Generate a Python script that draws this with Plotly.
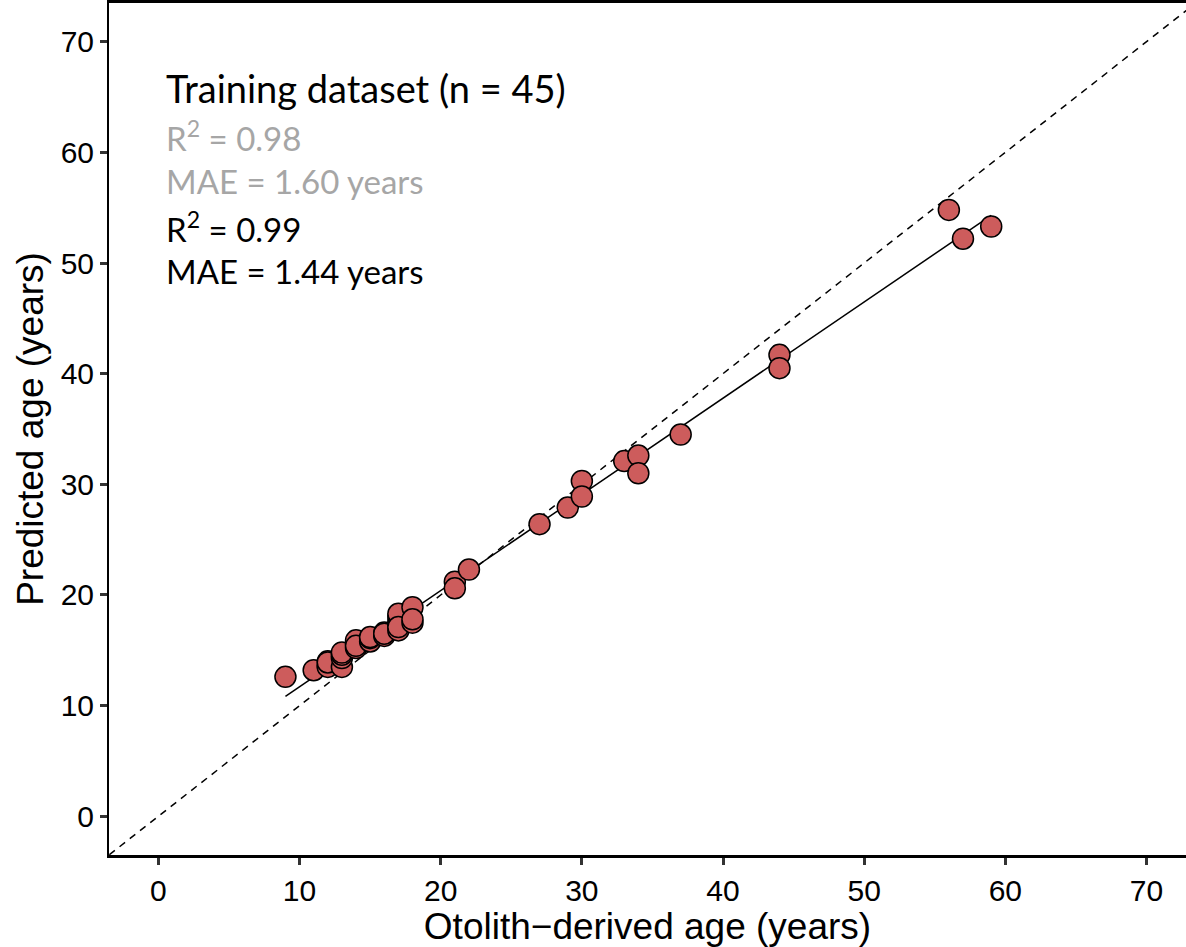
import numpy as np
import plotly.graph_objects as go

# Otolith-derived (true) ages and model-predicted ages, training set (n = 45)
otolith_age = [9, 11, 12, 12, 12, 12, 13, 13, 13, 13, 14, 14, 14, 14, 15, 15, 15,
               16, 16, 16, 17, 17, 17, 17, 17, 17, 18, 18, 18, 21, 21, 22, 27,
               29, 30, 30, 33, 34, 34, 37, 44, 44, 56, 57, 59]
predicted_age = [12.6, 13.2, 13.6, 14.0, 13.5, 13.9, 13.5, 14.3, 14.6, 14.8, 15.2, 15.6, 15.9, 15.4,
                 15.8, 16.1, 16.2, 16.3, 16.6, 16.5, 16.8, 17.3, 17.6, 18.0, 18.3, 17.1,
                 17.5, 18.9, 17.8, 21.2, 20.6, 22.3, 26.4, 27.9, 30.3, 28.9, 32.1, 32.6,
                 31.0, 34.5, 41.7, 40.5, 54.8, 52.2, 53.3]

axis_ticks = [0, 10, 20, 30, 40, 50, 60, 70]
stats_lines = ["Training dataset (n = 45)", "R<sup>2</sup> = 0.98", "MAE = 1.60 years",
               "R<sup>2</sup> = 0.99", "MAE = 1.44 years"]
stats_colors = ["black", "#a6a6a6", "#a6a6a6", "black", "black"]
stats_y = [65.8, 61.5, 57.4, 53.3, 49.3]
stats_sizes = [38, 33, 33, 33, 33]

x = np.array(otolith_age, dtype=float)
y = np.array(predicted_age, dtype=float)
slope, intercept = np.polyfit(x, y, 1)
fit_x = np.array([x.min(), x.max()])
fit_y = intercept + slope * fit_x

fig = go.Figure()
# 1:1 reference line
fig.add_trace(go.Scatter(x=[-10, 80], y=[-10, 80], mode="lines",
                         line=dict(color="black", width=1.5, dash="7px,6px"),
                         hoverinfo="skip", showlegend=False))
# linear fit
fig.add_trace(go.Scatter(x=fit_x, y=fit_y, mode="lines",
                         line=dict(color="black", width=1.5),
                         hoverinfo="skip", showlegend=False))
fig.add_trace(go.Scatter(x=x, y=y, mode="markers",
                         marker=dict(size=21, color="#cd5c5c",
                                     line=dict(color="black", width=1.5)),
                         showlegend=False))

for txt, col, yy, sz in zip(stats_lines, stats_colors, stats_y, stats_sizes):
    fig.add_annotation(x=0.4, y=yy, xref="x", yref="y", text=txt, showarrow=False,
                       xanchor="left", yanchor="middle",
                       font=dict(family="Lato", size=sz, color=col))

tick_font = dict(family="Liberation Sans", size=30, color="black")
title_font = dict(family="Liberation Sans", size=37, color="black")
fig.update_xaxes(range=[-3.5, 72.8], tickvals=axis_ticks, showgrid=False, zeroline=False,
                 showline=True, linecolor="black", linewidth=2.5, mirror=True,
                 ticks="outside", ticklen=7, tickwidth=2.5, tickcolor="#333333",
                 tickfont=tick_font, title=dict(text="Otolith\u2212derived age (years)",
                                                font=title_font, standoff=0))
fig.update_yaxes(range=[-3.5, 73.5], tickvals=axis_ticks, showgrid=False, zeroline=False,
                 showline=True, linecolor="black", linewidth=2,
                 ticks="outside", ticklen=7, tickwidth=2.5, tickcolor="#333333",
                 tickfont=tick_font, title=dict(text="Predicted age (years)",
                                                font=title_font, standoff=6))
fig.update_layout(width=1186, height=947, plot_bgcolor="white", paper_bgcolor="white",
                  margin=dict(l=109, r=0, t=3, b=92))
fig.write_html("out.html")
